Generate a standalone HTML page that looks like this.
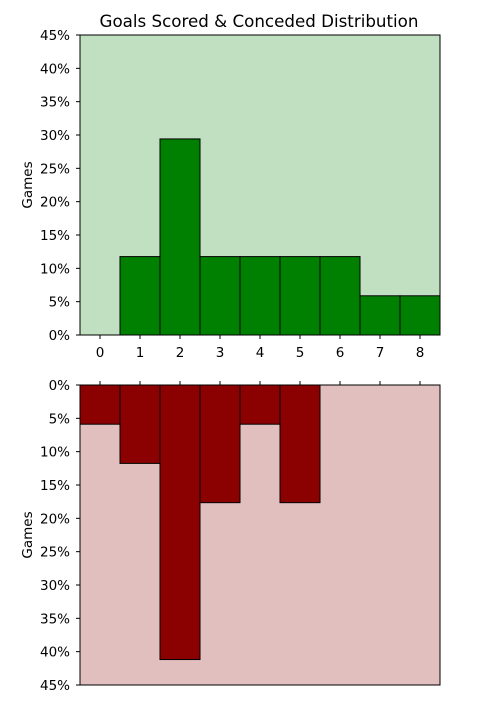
<!DOCTYPE html>
<html><head><meta charset="utf-8"><style>
body{margin:0;background:#fff;}
svg text{font-family:"DejaVu Sans","Liberation Sans",sans-serif;}
</style></head><body>
<svg id="c" width="485" height="705" xmlns="http://www.w3.org/2000/svg">
<text x="259" y="27" font-size="16.7" text-anchor="middle">Goals Scored &amp; Conceded Distribution</text>
</svg>
<script>
const categories=[0,1,2,3,4,5,6,7,8];
const scoredPct=[0,11.76,29.41,11.76,11.76,11.76,11.76,5.88,5.88];
const concededPct=[5.88,11.76,41.18,17.65,5.88,17.65,0,0,0];
const yTicks=[0,5,10,15,20,25,30,35,40,45];
const NS="http://www.w3.org/2000/svg";
const svg=document.getElementById('c');
const L=80,R=440,W=R-L;
function xs(v){return L+(v+0.5)/9*W;}
function mk(t,a){const e=document.createElementNS(NS,t);for(const k in a)e.setAttribute(k,a[k]);svg.appendChild(e);return e;}
function panel(top,bottom,inverted,bg,color,data,name,xlabels){
  const ys=v=>inverted?top+v/45*(bottom-top):bottom-v/45*(bottom-top);
  const r=mk('rect',{x:L,y:top,width:W,height:bottom-top,fill:bg});
  
  
  data.forEach((v,i)=>{
    if(v<=0)return;
    const y1=ys(0),y2=ys(v);
    const b=mk('rect',{x:xs(categories[i]-0.5),y:Math.min(y1,y2),width:W/9,height:Math.abs(y2-y1),fill:color,stroke:'#000','stroke-width':1});
    
    
  });
  const f=mk('rect',{x:L,y:top,width:W,height:bottom-top,fill:'none',stroke:'#000','stroke-width':1});
  
  
  yTicks.forEach(t=>{
    const y=ys(t);
    const tk=mk('line',{x1:L-4,x2:L,y1:y,y2:y,stroke:'#000'});
    
    
    const tx=mk('text',{x:L-10,y:y+5,'font-size':13.5,'text-anchor':'end'});
    tx.textContent=t+'%';
    
    
  });
  categories.forEach(c=>{
    const x=xs(c);
    const y0=inverted?top:bottom;
    const tk=mk('line',{x1:x,x2:x,y1:y0,y2:inverted?y0-4:y0+4,stroke:'#000'});
    
    
    if(xlabels){
      const tx=mk('text',{x:x,y:bottom+22,'font-size':13.5,'text-anchor':'middle'});
      tx.textContent=c;
      
      
    }
  });
  const yl=mk('text',{x:0,y:0,'font-size':13.5,'text-anchor':'middle',transform:'translate(32,'+((top+bottom)/2)+') rotate(-90)'});
  yl.textContent='Games';
  
  
}
panel(35,335,false,'#c1dfc1','#008000',scoredPct,'scored',true);
panel(385,685,true,'#e1bfbf','#8b0000',concededPct,'conceded',false);
</script>
</body></html>
